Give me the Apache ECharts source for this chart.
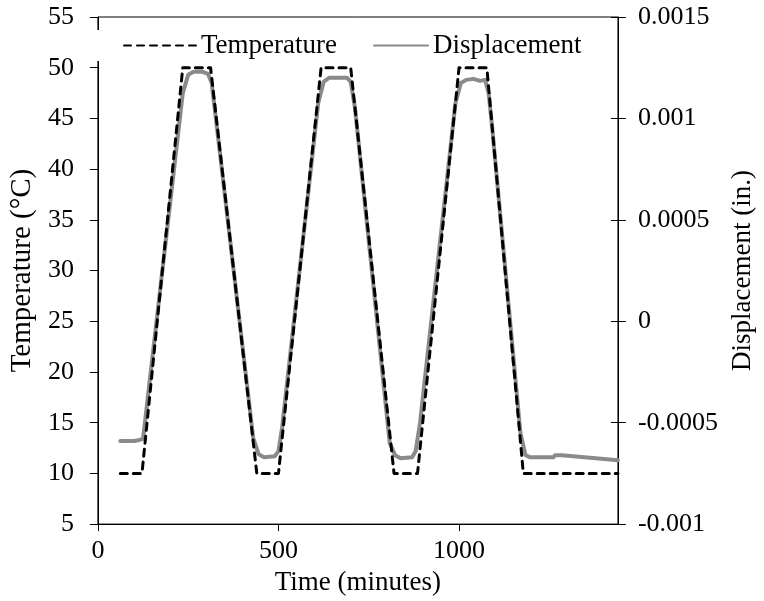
<!DOCTYPE html>
<html>
<head>
<meta charset="utf-8">
<script src="https://cdn.jsdelivr.net/npm/echarts@6/dist/echarts.min.js"></script>
<style>html,body{margin:0;padding:0;background:#fff}#c{width:764px;height:601px}</style>
</head>
<body>
<div id="c"></div>
<script>
// Time (minutes), Temperature (°C)
const tempTime = [62, 122, 235, 312, 440, 500, 618, 700, 820, 885, 1000, 1077, 1178, 1440];
const tempValue = [10, 10, 50, 50, 10, 10, 50, 50, 10, 10, 50, 50, 10, 10];
// Time (minutes), Displacement (in.)
const dispTime = [62, 100, 115, 125, 235, 250, 265, 290, 305, 315, 330, 430, 445, 460, 490, 500, 510, 610, 625, 640, 690, 700, 712, 808, 823, 838, 870, 880, 892, 990, 1005, 1020, 1040, 1058, 1072, 1082, 1092, 1170, 1184, 1196, 1262, 1266, 1285, 1440];
const dispValue = [-0.00059, -0.00059, -0.000585, -0.00058, 0.001125, 0.001215, 0.00123, 0.00123, 0.00122, 0.001175, 0.00095, -0.000575, -0.000655, -0.00067, -0.000665, -0.00064, -0.000525, 0.001075, 0.00118, 0.0012, 0.0012, 0.00118, 0.00105, -0.0006, -0.00066, -0.000675, -0.00067, -0.00064, -0.0005, 0.001075, 0.001175, 0.00119, 0.001195, 0.001185, 0.00119, 0.001125, 0.00095, -0.00055, -0.00066, -0.00067, -0.00067, -0.00066, -0.00066, -0.000685];
const xTicks = [0, 500, 1000];
const leftTicks = [5, 10, 15, 20, 25, 30, 35, 40, 45, 50, 55];
const rightTickLabels = ['-0.001', '-0.0005', '0', '0.0005', '0.001', '0.0015'];

const FONT = 'Liberation Serif';
const FS = 26;
const FT = 27;
const chart = echarts.init(document.getElementById('c'), null, {renderer: 'canvas'});
const tempData = tempTime.map((t, i) => [t, tempValue[i]]);
const dispData = dispTime.map((t, i) => [t, dispValue[i]]);
const lineAxis = {show: true, onZero: false, lineStyle: {color: '#000', width: 1}};
const legendText = {fontFamily: FONT, fontSize: FT, color: '#000', lineHeight: 20};

chart.setOption({
  animation: false,
  backgroundColor: '#fff',
  textStyle: {fontFamily: FONT},
  grid: {left: 88, right: 116, top: 17, bottom: 61, show: true, borderColor: '#000', borderWidth: 1, backgroundColor: 'transparent'},
  legend: [
    {
      data: ['Temperature'],
      left: 84, top: 30,
      padding: [2, 8, 2, 39],
      backgroundColor: '#fff',
      itemWidth: 72, itemHeight: 20,
      itemStyle: {opacity: 0},
      textStyle: legendText
    },
    {
      data: ['Displacement'],
      left: 373, top: 30,
      padding: [2, 4, 2, 0],
      backgroundColor: '#fff',
      itemWidth: 54, itemHeight: 20,
      itemStyle: {opacity: 0},
      textStyle: legendText
    }
  ],
  xAxis: {
    type: 'value', min: 0, max: 1440, interval: 500,
    name: 'Time (minutes)', nameLocation: 'middle', nameGap: 35,
    nameTextStyle: {fontFamily: FONT, fontSize: FT, color: '#000'},
    axisLine: lineAxis,
    axisTick: {show: true, inside: false, length: 7, lineStyle: {color: '#000'}},
    axisLabel: {fontFamily: FONT, fontSize: FS, color: '#000', margin: 14, showMaxLabel: false,
      formatter: v => xTicks.indexOf(v) >= 0 ? String(v) : ''},
    splitLine: {show: false}
  },
  yAxis: [
    {
      type: 'value', min: 5, max: 55, interval: 5, position: 'left',
      name: 'Temperature (°C)', nameLocation: 'middle', nameGap: 49, nameRotate: 90,
      nameTextStyle: {fontFamily: FONT, fontSize: 29, color: '#000'},
      axisLine: lineAxis,
      axisTick: {show: true, inside: false, length: 8, lineStyle: {color: '#000'}},
      axisLabel: {fontFamily: FONT, fontSize: FS, color: '#000', margin: 24,
        formatter: v => leftTicks.indexOf(Math.round(v)) >= 0 ? String(Math.round(v)) : ''},
      splitLine: {show: false}
    },
    {
      type: 'value', min: -0.001, max: 0.0015, interval: 0.0005, position: 'right',
      name: 'Displacement (in.)', nameLocation: 'middle', nameGap: 91, nameRotate: 90,
      nameTextStyle: {fontFamily: FONT, fontSize: FT, color: '#000'},
      axisLine: lineAxis,
      axisTick: {show: true, inside: false, length: 8, lineStyle: {color: '#000'}},
      axisLabel: {fontFamily: FONT, fontSize: FS, color: '#000', margin: 20,
        formatter: v => { const k = Math.round((v + 0.001) / 0.0005); return rightTickLabels[k] || ''; }},
      splitLine: {show: false}
    },
    {
      type: 'value', min: -0.001, max: 0.0015, interval: 0.0005, position: 'right',
      axisLine: {show: false, onZero: false},
      axisTick: {show: true, inside: true, length: 7, lineStyle: {color: '#000'}},
      axisLabel: {show: false},
      splitLine: {show: false}
    }
  ],
  series: [
    {
      name: 'Temperature', type: 'line', yAxisIndex: 0, data: tempData,
      showSymbol: false, symbol: 'none', z: 3,
      lineStyle: {color: '#000', width: 3, type: [7, 6], cap: 'round', join: 'round'},
      itemStyle: {color: '#000'}
    },
    {
      name: 'Displacement', type: 'line', yAxisIndex: 1, data: dispData,
      showSymbol: false, symbol: 'none', z: 2,
      lineStyle: {color: '#8a8a8a', width: 4, cap: 'round', join: 'round'},
      itemStyle: {color: '#8a8a8a'}
    }
  ]
});
</script>
</body>
</html>
